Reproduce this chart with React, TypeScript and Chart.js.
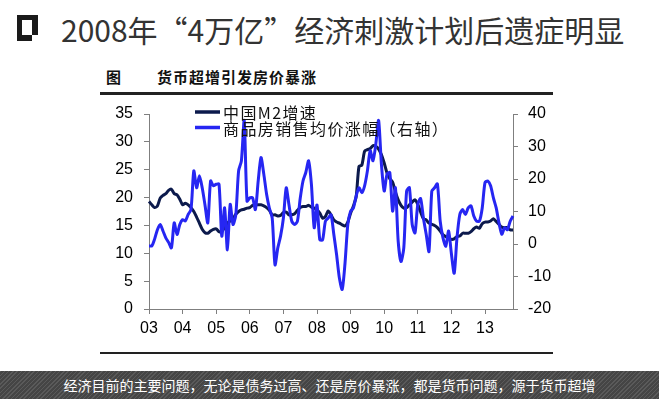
import React, { useEffect, useRef } from 'react';
import { Chart, registerables } from 'chart.js';

Chart.register(...registerables);

// ---- data (monthly, Jan 2003 .. Nov 2013) ----
const START_YEAR = 2003;
const yearTickLabels = ['03', '04', '05', '06', '07', '08', '09', '10', '11', '12', '13'];

// 中国M2增速 (left axis, %)
const m2Growth = [
  19.3, 18.7, 18.2, 18.5, 19.9, 20.4, 20.7, 21.3, 21.5, 20.7, 20.5, 19.7,
  18.7, 19.0, 18.7, 18.2, 17.5, 16.5, 15.4, 14.3, 13.7, 13.6, 14.0, 14.3,
  14.4, 13.9, 13.9, 14.6, 15.4, 15.8, 16.2, 17.0, 17.5, 17.8, 17.9, 18.1,
  18.2, 18.6, 18.7, 18.7, 18.7, 18.5, 18.2, 17.7, 16.9, 16.9, 16.7, 16.8,
  17.3, 17.4, 16.9, 16.9, 17.1, 17.7, 18.2, 18.4, 18.4, 18.6, 18.3, 18.1,
  17.8, 17.2, 16.3, 16.6, 17.6, 16.9, 16.0, 15.6, 15.4, 15.1, 14.9, 15.6,
  17.2, 18.5, 20.2, 25.6, 25.8, 28.3, 28.6, 28.8, 29.3, 29.2, 28.7, 27.7,
  26.2, 24.4, 23.4, 22.8, 21.0, 19.6, 18.6, 18.1, 18.2, 18.7, 19.2, 19.6,
  18.8, 17.4, 16.2, 16.0, 15.4, 15.2, 15.0, 14.6, 14.0, 13.3, 13.0, 12.8,
  12.5, 12.6, 13.0, 13.1, 13.6, 13.6, 13.6, 13.9, 14.4, 14.7, 14.5, 15.3,
  15.6, 15.6, 15.8, 16.2, 15.7, 15.2, 14.7, 14.6, 14.6, 14.2, 14.2,
];

// 商品房销售均价涨幅 (right axis, %)
const housePriceGrowth = [
  -0.6, -0.6, 1.5, 4.4, 6.0, 4.0, 1.9, 0.5, -1.2, 6.5, 2.9, 6.0,
  7.5, 7.1, 9.1, 10.6, 22.5, 17.3, 21.0, 17.3, 12.0, 6.5, 19.4, 17.9,
  18.4, 18.4, 2.4, 11.1, -1.8, 12.2, 6.0, 9.0, 22.5, 25.6, 38.0, 13.2,
  14.2, 14.2, 10.6, 19.4, 26.6, 21.5, 15.3, 11.0, 8.0, -6.4, -1.2, 2.5,
  8.0, 17.3, 12.0, 7.0, 6.0, 7.0, 14.0, 19.4, 22.0, 25.6, 18.4, 5.0,
  12.0, 1.3, 1.3, 7.0, 8.0, 9.0, 3.0, -3.3, -10.5, -14.0, -6.0, 6.0,
  10.1, 11.1, 14.8, 17.3, 15.8, 17.9, 22.5, 28.7, 25.6, 30.7, 38.0, 24.6,
  16.3, 21.5, 22.0, 10.1, 17.3, 0.8, -5.4, -1.2, 16.3, 17.3, 6.0, 3.4,
  12.2, 14.0, 8.0, 3.0, -2.3, 16.3, 17.3, 18.5, 7.0, 1.9, -0.7, 4.0,
  -3.0, -9.0, 2.0, 9.1, 10.6, 9.1, 11.1, 11.7, 8.6, 7.0, 7.0, 11.0,
  18.9, 19.4, 17.9, 14.2, 11.1, 6.5, 3.0, 5.0, 4.4, 7.0, 8.6,
];

const leftAxis = { min: 0, max: 35, step: 5 };
const rightAxis = { min: -20, max: 40, step: 10 };

const seriesNames = ['中国M2增速', '商品房销售均价涨幅（右轴）'];

const NAVY = '#0c1a4c';
const BLUE = '#2626f2';
const AXIS = '#7f7f7f';
const CJK = '"Noto Sans CJK SC", "Noto Sans", sans-serif';
const NUM = '"Liberation Sans", Arial, sans-serif';

const monthLabels = m2Growth.map(
  (_, i) => `${START_YEAR + Math.floor(i / 12)}-${String((i % 12) + 1).padStart(2, '0')}`
);

const legendPlugin = {
  id: 'innerLegend',
  afterDatasetsDraw(chart: any) {
    const { ctx, chartArea } = chart;
    const x0 = chartArea.left + 46;
    const items = [
      { color: NAVY, y: chartArea.top - 2, text: seriesNames[0] },
      { color: BLUE, y: chartArea.top + 13.5, text: seriesNames[1] },
    ];
    ctx.save();
    items.forEach((it) => {
      ctx.strokeStyle = it.color;
      ctx.lineWidth = 3.5;
      ctx.beginPath();
      ctx.moveTo(x0, it.y);
      ctx.lineTo(x0 + 25, it.y);
      ctx.stroke();
      ctx.fillStyle = '#111';
      ctx.font = `16px ${CJK}`;
      (ctx as any).letterSpacing = '1.4px';
      ctx.textBaseline = 'middle';
      ctx.textAlign = 'left';
      ctx.fillText(it.text, x0 + 28, it.y + 1);
    });
    ctx.restore();
  },
};

function ChartCanvas() {
  const ref = useRef<HTMLCanvasElement | null>(null);
  useEffect(() => {
    if (!ref.current) return;
    const chart = new Chart(ref.current, {
      type: 'line',
      data: {
        labels: monthLabels,
        datasets: [
          {
            label: seriesNames[1],
            data: housePriceGrowth,
            yAxisID: 'y1',
            borderColor: BLUE,
            borderWidth: 3,
            pointRadius: 0,
            tension: 0.25,
            order: 0,
          },
          {
            label: seriesNames[0],
            data: m2Growth,
            yAxisID: 'y',
            borderColor: NAVY,
            borderWidth: 3,
            pointRadius: 0,
            tension: 0.25,
            order: 1,
          },
        ],
      },
      options: {
        responsive: false,
        animation: false,
        events: [],
        layout: { padding: { left: 109, right: 106, top: 114, bottom: 60 } },
        plugins: { legend: { display: false }, tooltip: { enabled: false }, title: { display: false } },
        scales: {
          x: {
            type: 'category',
            offset: false,
            grid: { drawOnChartArea: false, drawTicks: true, tickLength: 5, color: AXIS },
            border: { color: AXIS, width: 1 },
            ticks: {
              autoSkip: false,
              maxRotation: 0,
              minRotation: 0,
              padding: 5,
              color: '#000',
              font: { family: NUM, size: 16 },
              callback: (_v: any, i: number) => (i % 12 === 0 ? yearTickLabels[i / 12] : null),
            },
            afterFit: (s: any) => { s.height = 30; },
          },
          y: {
            position: 'left',
            min: leftAxis.min,
            max: leftAxis.max,
            grid: { drawOnChartArea: false, drawTicks: true, tickLength: 5, color: AXIS },
            border: { color: AXIS, width: 1 },
            ticks: { stepSize: leftAxis.step, padding: 11, color: '#000', font: { family: NUM, size: 16 } },
            afterFit: (s: any) => { s.width = 40; },
          },
          y1: {
            position: 'right',
            min: rightAxis.min,
            max: rightAxis.max,
            grid: { drawOnChartArea: false, drawTicks: true, tickLength: 5, color: AXIS },
            border: { color: AXIS, width: 1 },
            ticks: { stepSize: rightAxis.step, padding: 10, color: '#000', font: { family: NUM, size: 16 } },
            afterFit: (s: any) => { s.width = 40; },
          },
        },
      },
      plugins: [legendPlugin],
    });
    return () => chart.destroy();
  }, []);
  return (
    <canvas
      ref={ref}
      width={659}
      height={399}
      style={{ position: 'absolute', left: 0, top: 0, width: 659, height: 399 }}
    />
  );
}

export default function App() {
  return (
    <div
      style={{
        position: 'absolute',
        left: 0,
        top: 0,
        width: 659,
        height: 399,
        background: '#fff',
        overflow: 'hidden',
        fontFamily: CJK,
      }}
    >
      {/* icon */}
      <div style={{ position: 'absolute', left: 17, top: 15, width: 21, height: 26, background: '#1a1a1a' }} />
      <div style={{ position: 'absolute', left: 22, top: 20, width: 10, height: 15, background: '#fff' }} />
      <div style={{ position: 'absolute', left: 32, top: 35, width: 6, height: 6, background: '#fff' }} />
      {/* title */}
      <div
        style={{
          position: 'absolute',
          left: 61,
          top: 9,
          fontSize: 30,
          lineHeight: '40px',
          color: '#333',
          whiteSpace: 'nowrap',
          fontWeight: 400,
        }}
      >
        2008年“4万亿”经济刺激计划后遗症明显
      </div>
      {/* subtitle */}
      <div
        style={{
          position: 'absolute',
          left: 106,
          top: 67,
          fontSize: 15,
          lineHeight: '20px',
          fontWeight: 700,
          color: '#111',
          whiteSpace: 'nowrap',
        }}
      >
        图
      </div>
      <div
        style={{
          position: 'absolute',
          left: 157,
          top: 67,
          fontSize: 15,
          lineHeight: '20px',
          fontWeight: 700,
          color: '#111',
          whiteSpace: 'nowrap',
          letterSpacing: 1,
        }}
      >
        货币超增引发房价暴涨
      </div>
      <div style={{ position: 'absolute', left: 100, top: 92, width: 453, height: 2.5, background: '#222' }} />
      <ChartCanvas />
      <div style={{ position: 'absolute', left: 100, top: 351.5, width: 453, height: 2.5, background: '#222' }} />
      {/* footer */}
      <div
        style={{
          position: 'absolute',
          left: 0,
          top: 371,
          width: 659,
          height: 28,
          background:
            'repeating-linear-gradient(135deg, #5a5a5a 0px, #5a5a5a 1px, #454545 1px, #454545 3px)',
          color: '#fff',
          fontSize: 14,
          lineHeight: '28px',
          textAlign: 'center',
          whiteSpace: 'nowrap',
        }}
      >
        经济目前的主要问题，无论是债务过高、还是房价暴涨，都是货币问题，源于货币超增
      </div>
    </div>
  );
}
